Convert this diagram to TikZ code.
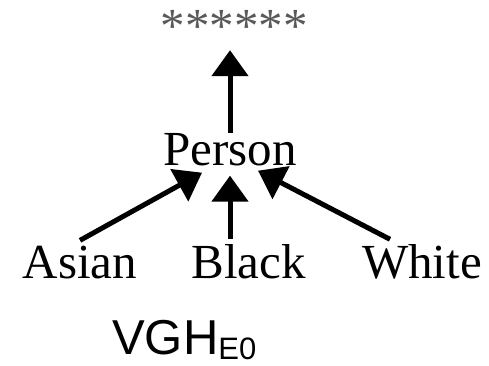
\documentclass[tikz,border=0pt]{standalone}
\usepackage{fontspec}
\setmainfont{Liberation Serif}
\newfontfamily\vghfont{Liberation Sans}
\usetikzlibrary{arrows.meta}
\begin{document}
\begin{tikzpicture}[x=1pt,y=1pt,
  term/.style={inner sep=0pt,anchor=base,font=\fontsize{49}{55}\selectfont},
  isa/.style={line width=5pt,-{Triangle[length=26pt,width=36pt]}}]
\useasboundingbox (0,0) rectangle (489,365);
% hierarchy levels
\node[term,text=black!65] (top) at (234,322) {******};
\node[term] (person) at (230,200) {Person};
\node[term] (asian) at (80,87) {Asian};
\node[term] (black) at (248.5,87) {Black};
\node[term] (white) at (422,87) {White};
% caption
\node[inner sep=0pt,anchor=base west,font=\vghfont\fontsize{49}{55}\selectfont] (cap) at (112,11)
  {VGH\raisebox{-5pt}{\fontsize{31}{31}\selectfont E0}};
% tip of the upper arrow, straight above Person
\path (top.south -| person.north) ++(0,-7) coordinate (toptip);
% generalisation arrows
\draw[isa] (person.north) -- (toptip);
\draw[isa] ([yshift=5pt]asian.north) -- ([xshift=-28pt,yshift=-7pt]person.south);
\draw[isa] ([xshift=-18.5pt,yshift=4.5pt]black.north) -- ([yshift=-10pt]person.south);
\draw[isa] ([xshift=-32pt,yshift=4.5pt]white.north) -- ([xshift=28pt,yshift=-5pt]person.south);
\end{tikzpicture}
\end{document}
